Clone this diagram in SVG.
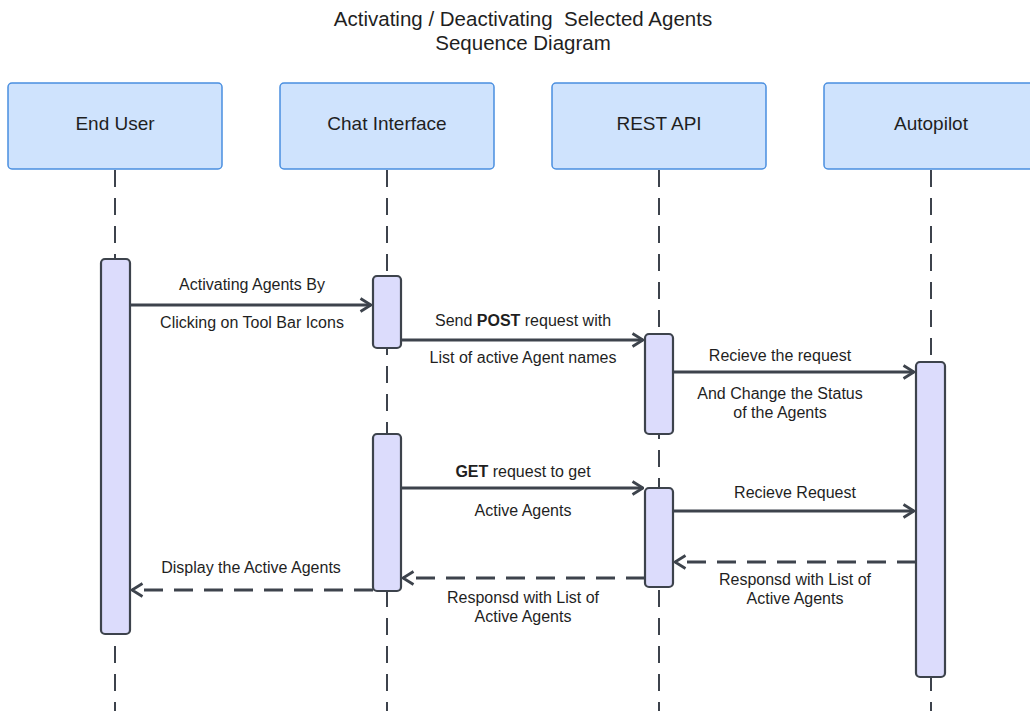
<svg xmlns="http://www.w3.org/2000/svg" width="1030" height="711" viewBox="0 0 1030 711">
  <style>
    .title { font-family: "Liberation Sans", Arial, sans-serif; font-size: 20.5px; fill: #1f1f1f; text-anchor: middle; white-space: pre; }
    .node rect { fill: #cfe3fd; stroke: #4a8fe0; stroke-width: 1.5; }
    .node text { font-family: "Liberation Sans", Arial, sans-serif; font-size: 19px; fill: #1f1f1f; text-anchor: middle; }
    .life { stroke: #3d434c; stroke-width: 2; stroke-dasharray: 17 11; fill: none; }
    .act { fill: #dcdcfc; stroke: #3d434c; stroke-width: 2.2; }
    .msg { stroke: #3d434c; stroke-width: 2.8; fill: none; }
    .ret { stroke: #3d434c; stroke-width: 2.8; fill: none; stroke-dasharray: 19 11; }
    .lbl { font-family: "Liberation Sans", Arial, sans-serif; font-size: 16px; fill: #1f1f1f; text-anchor: middle; }
    .lbl tspan.b { font-weight: bold; }
  </style>
  <defs>
    <marker id="open" viewBox="0 0 13 16" refX="12" refY="8" markerWidth="13" markerHeight="16" markerUnits="userSpaceOnUse" orient="auto">
      <path d="M1.5,1.5 L12,8 L1.5,14.5" fill="none" stroke="#3d434c" stroke-width="2.8" stroke-linejoin="miter"/>
    </marker>
  </defs>

  <rect width="1030" height="711" fill="#ffffff"/>

  <text class="title" x="523" y="26" xml:space="preserve">Activating / Deactivating  Selected Agents</text>
  <text class="title" x="523" y="50">Sequence Diagram</text>

  <!-- lifelines -->
  <g id="lifelines">
    <line class="life" x1="115" y1="170" x2="115" y2="711"/>
    <line class="life" x1="387" y1="170" x2="387" y2="711"/>
    <line class="life" x1="659" y1="170" x2="659" y2="711"/>
    <line class="life" x1="931" y1="170" x2="931" y2="711"/>
  </g>

  <!-- participants -->
  <g id="end-user" class="node">
    <rect x="8" y="83" width="214" height="86" rx="4"/>
    <text x="115" y="130">End User</text>
  </g>
  <g id="chat-interface" class="node">
    <rect x="280" y="83" width="214" height="86" rx="4"/>
    <text x="387" y="130">Chat Interface</text>
  </g>
  <g id="rest-api" class="node">
    <rect x="552" y="83" width="214" height="86" rx="4"/>
    <text x="659" y="130">REST API</text>
  </g>
  <g id="autopilot" class="node">
    <rect x="824" y="83" width="214" height="86" rx="4"/>
    <text x="931" y="130">Autopilot</text>
  </g>

  <!-- activation bars -->
  <g id="activations">
    <rect id="act-user" class="act" x="101" y="259" width="29" height="375" rx="4"/>
    <rect id="act-chat-1" class="act" x="373" y="276" width="28" height="72" rx="4"/>
    <rect id="act-chat-2" class="act" x="373" y="434" width="28" height="157" rx="4"/>
    <rect id="act-rest-1" class="act" x="645" y="334" width="28" height="100" rx="4"/>
    <rect id="act-rest-2" class="act" x="645" y="488" width="28" height="99" rx="4"/>
    <rect id="act-autopilot" class="act" x="916" y="362" width="29" height="315" rx="4"/>
  </g>

  <!-- messages -->
  <g id="connectors">
    <line class="msg" x1="130" y1="305" x2="371" y2="305" marker-end="url(#open)"/>
    <line class="msg" x1="401" y1="340" x2="643" y2="340" marker-end="url(#open)"/>
    <line class="msg" x1="673" y1="372" x2="914" y2="372" marker-end="url(#open)"/>
    <line class="msg" x1="401" y1="488" x2="643" y2="488" marker-end="url(#open)"/>
    <line class="msg" x1="673" y1="511" x2="914" y2="511" marker-end="url(#open)"/>
    <line class="ret" x1="916" y1="562" x2="675" y2="562" marker-end="url(#open)"/>
    <line class="ret" x1="645" y1="578" x2="403" y2="578" marker-end="url(#open)"/>
    <line class="ret" x1="373" y1="590" x2="132" y2="590" marker-end="url(#open)"/>
  </g>

  <!-- message labels -->
  <g id="labels">
    <text class="lbl" x="252" y="290">Activating Agents By</text>
    <text class="lbl" x="252" y="328">Clicking on Tool Bar Icons</text>
    <text class="lbl" x="523" y="326">Send <tspan class="b">POST</tspan> request with</text>
    <text class="lbl" x="523" y="363">List of active Agent names</text>
    <text class="lbl" x="780" y="361">Recieve the request</text>
    <text class="lbl" x="780" y="399">And Change the Status</text>
    <text class="lbl" x="780" y="418">of the Agents</text>
    <text class="lbl" x="523" y="477"><tspan class="b">GET</tspan> request to get</text>
    <text class="lbl" x="523" y="516">Active Agents</text>
    <text class="lbl" x="795" y="498">Recieve Request</text>
    <text class="lbl" x="795" y="585">Responsd with List of</text>
    <text class="lbl" x="795" y="604">Active Agents</text>
    <text class="lbl" x="523" y="603">Responsd with List of</text>
    <text class="lbl" x="523" y="622">Active Agents</text>
    <text class="lbl" x="251" y="573">Display the Active Agents</text>
  </g>
</svg>
